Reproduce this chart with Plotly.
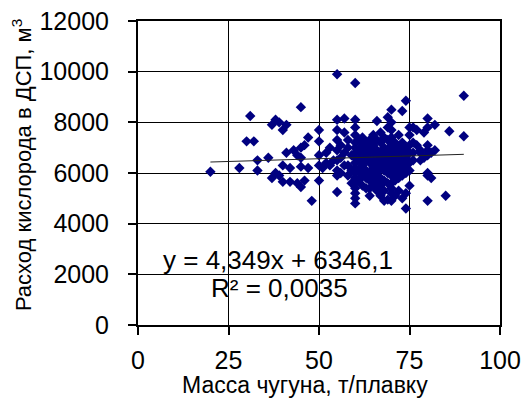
import plotly.graph_objects as go

# ---- data ----
x_sparse = [20, 28, 30, 31, 32, 33, 33, 36, 37, 37, 38, 39, 38, 39, 40, 40, 41, 41, 42, 40, 42,
            43, 44, 45, 45, 45, 46, 47, 45, 45, 44, 48, 47, 46, 50, 50, 50, 50, 50, 51, 52, 52,
            53, 54, 53,
            55, 60, 74, 73, 70, 69, 90, 90, 80, 80, 55, 57, 60, 66, 82, 86, 85, 80, 74, 68, 70,
            71, 70, 64, 63, 62, 55, 60, 60, 60, 75, 80, 80, 81, 80, 82, 78, 77, 75, 76, 75, 77,
            79, 81, 79, 76, 73, 67, 66, 72, 69, 74]
y_sparse = [6050, 6200, 7250, 8250, 7250, 6500, 6100, 6600, 5800, 7900, 8100, 8000, 6000, 5900,
            7700, 6300, 6800, 7900, 6200, 5650, 5650, 6900, 5600, 5450, 8600, 7000, 7100, 7400,
            6600, 6250, 6700, 4900, 6200, 5700, 7700, 7250, 6700, 6300, 5700, 6200, 6800, 6400,
            6300, 6500, 7000,
            9900, 9550, 8850, 8450, 8500, 8200, 9050, 7450, 8150, 7800, 8100, 8150, 8100, 8050,
            7900, 7650, 5100, 4900, 4600, 4900, 4900, 5100, 5200, 5100, 5400, 5500, 5250, 4800,
            5000, 5200, 5500, 6000, 5900, 5800, 7100, 6900, 6800, 7100, 7800, 7800, 7500, 7700,
            7600, 6800, 6600, 6500, 5000, 5100, 5300, 5300, 4950, 5200]

# dense cluster, column by column (x value -> oxygen values)
cluster_x = [55, 56, 57, 58, 59, 60, 61, 62, 63, 64, 65, 66, 67, 68, 69, 70, 71, 72, 73, 74,
             75, 76, 78, 80]
cluster_y = [
    [7700, 7300, 6900, 6500, 6100, 5900],
    [6600, 6000, 7100],
    [7600, 6800, 6300],
    [6300, 5900, 7000, 7300],
    [6700, 6100, 5600],
    [7800, 7500, 7200, 7000, 6800, 6600, 6400, 6200, 6000, 5800, 5600, 5400],
    [7300, 6900, 6500, 6100, 5700],
    [7100, 6700, 6300, 5900, 7400],
    [6900, 6500, 6100, 5800, 7200],
    [7300, 7000, 6700, 6400, 6000, 5700, 5400],
    [7500, 7100, 6800, 6500, 6200, 5900, 5600],
    [7300, 6900, 6600, 6300, 6000, 5700, 5400],
    [7600, 7200, 6800, 6500, 6200, 5800, 5500],
    [7400, 7000, 6700, 6400, 6100, 5700, 5300],
    [7800, 7300, 6900, 6600, 6300, 6000, 5600],
    [8000, 7700, 7400, 7100, 6800, 6500, 6200, 5900, 5600, 5400],
    [7200, 6900, 6600, 6300, 6000, 5700],
    [7500, 7000, 6700, 6400, 6100, 5800],
    [7200, 6800, 6500, 6200, 5900],
    [7000, 6600, 6300, 6000],
    [7100, 6800, 6400, 6100],
    [6800, 7200],
    [6900, 6500],
    [6700, 6900],
]

slope = 4.349
intercept = 6346.1
trend_x = [20, 90]

x_ticks = [0, 25, 50, 75, 100]
x_tick_labels = ["0", "25", "50", "75", "100"]
y_ticks = [0, 2000, 4000, 6000, 8000, 10000, 12000]
y_tick_labels = ["0", "2000", "4000", "6000", "8000", "10000", "12000"]

eq_text = "y = 4,349x + 6346,1"
r2_text = "R² = 0,0035"
x_title = "Масса чугуна, т/плавку"
y_title = "Расход кислорода в ДСП, м<sup>3</sup>"

# ---- build ----
xs = list(x_sparse)
ys = list(y_sparse)
for cx, col in zip(cluster_x, cluster_y):
    for v in col:
        xs.append(cx)
        ys.append(v)

FONT = "Arial, 'Liberation Sans', sans-serif"

fig = go.Figure()
fig.add_trace(go.Scatter(
    x=xs, y=ys, mode="markers",
    marker=dict(symbol="diamond", size=8, color="#000080", line=dict(width=0)),
    showlegend=False, hoverinfo="skip"))
fig.add_trace(go.Scatter(
    x=trend_x, y=[slope * v + intercept for v in trend_x], mode="lines",
    line=dict(color="#222222", width=1), showlegend=False, hoverinfo="skip"))

fig.update_layout(
    width=524, height=401,
    margin=dict(l=138, r=24, t=21, b=76),
    paper_bgcolor="white", plot_bgcolor="white",
    font=dict(family=FONT, color="black"),
    xaxis=dict(range=[0, 100], tickvals=x_ticks, ticktext=x_tick_labels,
               ticks="outside", ticklen=8, automargin=False,
               tickcolor="black", tickwidth=1.5, showgrid=True, gridcolor="black",
               gridwidth=1, showline=True, linecolor="black", linewidth=2, mirror=True,
               zeroline=False, tickfont=dict(size=25, family=FONT), ticklabelstandoff=4),
    yaxis=dict(range=[0, 12000], tickvals=y_ticks, ticktext=y_tick_labels,
               ticks="outside", ticklen=8, automargin=False,
               tickcolor="black", tickwidth=1.5, showgrid=True, gridcolor="black",
               gridwidth=1, showline=True, linecolor="black", linewidth=2, mirror=True,
               zeroline=False, tickfont=dict(size=25, family=FONT), ticklabelstandoff=14),
    annotations=[
        dict(x=38.7, y=2566, xref="x", yref="y", text=eq_text, showarrow=False,
             xanchor="center", yanchor="middle", font=dict(size=26, family=FONT)),
        dict(x=39.2, y=1460, xref="x", yref="y", text=r2_text, showarrow=False,
             xanchor="center", yanchor="middle", font=dict(size=26, family=FONT)),
        dict(x=0.461, y=-0.199, xref="paper", yref="paper", text=x_title, showarrow=False,
             xanchor="center", yanchor="middle", font=dict(size=23, family=FONT)),
        dict(x=-0.3204, y=0.526, xref="paper", yref="paper", text=y_title, showarrow=False,
             textangle=-90, xanchor="center", yanchor="middle",
             font=dict(size=22, family=FONT)),
    ],
)

fig.write_html("out.html", config={"displayModeBar": False},
               post_script="document.body.style.margin='0';document.body.style.overflow='hidden';")
